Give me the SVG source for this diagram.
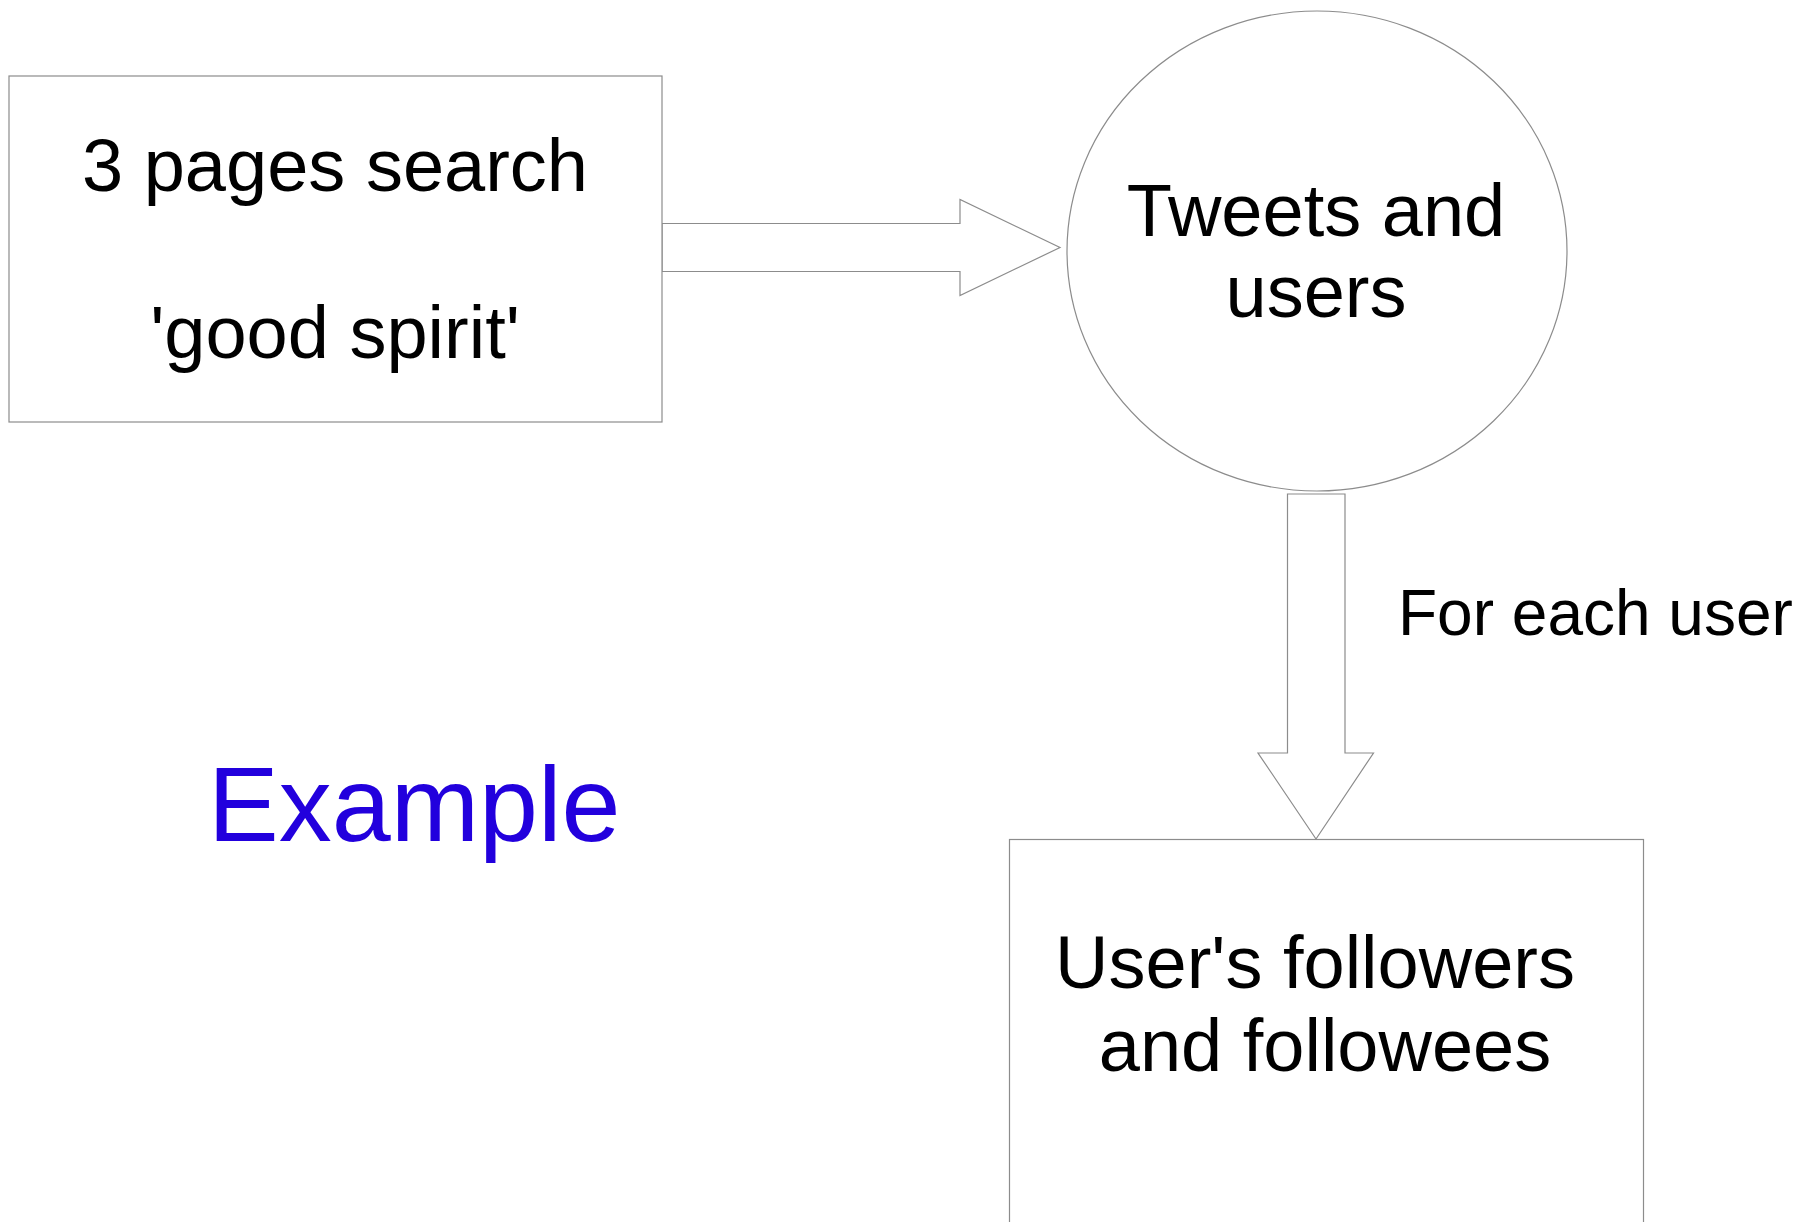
<svg xmlns="http://www.w3.org/2000/svg" width="1806" height="1222" viewBox="0 0 1806 1222">
<style>
.shape{fill:#ffffff;stroke:#8c8c8c;stroke-width:1.2}
.lbl{font-family:"Liberation Sans",Arial,sans-serif;font-size:74px;fill:#000;text-anchor:middle}
</style>
<rect width="1806" height="1222" fill="#ffffff"/>
<g id="connectors">
<polygon class="shape" points="662,223.5 960,223.5 960,199.5 1060,247.5 960,295.5 960,271.5 662,271.5"/>
<polygon class="shape" points="1287.5,494 1345,494 1345,753 1373.5,753 1316,839 1258,753 1287.5,753"/>
<text x="1398" y="635" style="font-family:'Liberation Sans',Arial,sans-serif;font-size:64px;fill:#000">For each user</text>
</g>
<g id="search">
<rect class="shape" x="9" y="76" width="653" height="346"/>
<text class="lbl" x="335" y="191">3 pages search</text>
<text class="lbl" x="335" y="358">'good spirit'</text>
</g>
<g id="tweets">
<ellipse class="shape" cx="1317" cy="251" rx="250" ry="240"/>
<text class="lbl" x="1316" y="236">Tweets and</text>
<text class="lbl" x="1316" y="317">users</text>
</g>
<g id="followers">
<rect class="shape" x="1009.5" y="839.5" width="634" height="400"/>
<text class="lbl" x="1315" y="988">User's followers</text>
<text class="lbl" x="1325" y="1071">and followees</text>
</g>
<g id="example">
<text x="208" y="841" style="font-family:'Liberation Sans',Arial,sans-serif;font-size:106px;fill:#2200dd">Example</text>
</g>
</svg>
